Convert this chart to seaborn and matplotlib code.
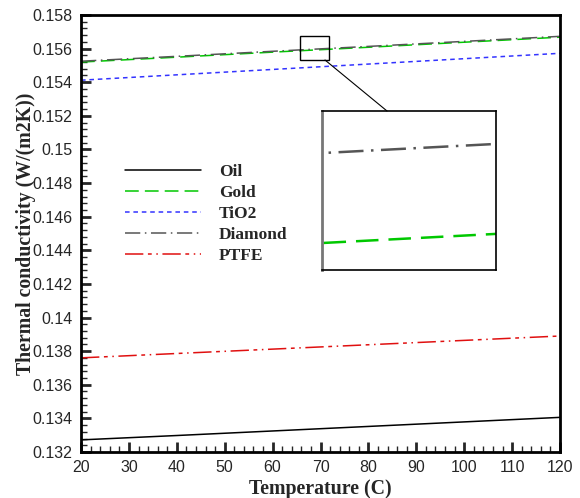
import matplotlib
matplotlib.use("Agg")
import matplotlib.pyplot as plt
import matplotlib.patches as mpatches
from matplotlib.ticker import MultipleLocator, AutoMinorLocator, FuncFormatter
import seaborn as sns
import pandas as pd

temps = [20, 40, 60, 80, 100, 120]
oil = [0.13272, 0.13298, 0.13325, 0.13352, 0.13379, 0.13406]
gold = [0.15520, 0.15549, 0.15579, 0.15608, 0.15638, 0.15668]
tio2 = [0.15412, 0.15444, 0.15476, 0.15508, 0.15540, 0.15572]
diamond = [0.15525, 0.15554, 0.15584, 0.15613, 0.15643, 0.15673]
ptfe = [0.13760, 0.13786, 0.13812, 0.13838, 0.13864, 0.13890]

names = ["Oil", "Gold", "TiO2", "Diamond", "PTFE"]
series = [oil, gold, tio2, diamond, ptfe]
colors = ["#000000", "#00c800", "#3333ff", "#555555", "#e01010"]
dashes = [None, (9, 4), (3, 2.5), (10, 3, 1, 3), (12, 3, 2.5, 3, 1, 3)]

sns.set_style("white")
plt.rcParams["font.family"] = ["Liberation Sans", "DejaVu Sans"]

fig = plt.figure(figsize=(5.8, 4.98), dpi=100)
ax = fig.add_axes([0.1397, 0.0924, 0.9655 - 0.1397, 0.9699 - 0.0924])

def draw(a, lw):
    for n, s, c, d in zip(names, series, colors, dashes):
        df = pd.DataFrame({"T": temps, "k": s})
        sns.lineplot(data=df, x="T", y="k", ax=a, color=c, lw=lw, label=n)
        ln = a.get_lines()[-1]
        if d is not None:
            ln.set_dashes(d)

draw(ax, 1.1)
ax.set_xlim(20, 120)
ax.set_ylim(0.132, 0.158)
ax.xaxis.set_major_locator(MultipleLocator(10))
ax.xaxis.set_minor_locator(AutoMinorLocator(5))
ax.yaxis.set_major_locator(MultipleLocator(0.002))
ax.yaxis.set_minor_locator(AutoMinorLocator(5))
ax.yaxis.set_major_formatter(FuncFormatter(lambda v, p: "%g" % round(v, 4)))
ax.tick_params(which="major", direction="in", length=7, width=2, labelsize=11.5,
               left=True, bottom=True, top=False, right=False)
ax.tick_params(axis="y", which="major", pad=6)
ax.tick_params(axis="x", which="major", pad=6)
ax.tick_params(which="minor", direction="in", length=4, width=1,
               left=True, bottom=True, top=False, right=False)
for sp in ax.spines.values():
    sp.set_linewidth(2)
    sp.set_color("black")
ax.set_xlabel("Temperature (C)", family="Liberation Serif", weight="bold", fontsize=14.3, labelpad=3)
ax.set_ylabel("Thermal conductivity (W/(m2K))", family="Liberation Serif", weight="bold", fontsize=14.3)
ax.yaxis.set_label_coords(-0.094, 0.5)

leg = ax.legend(loc="upper left", bbox_to_anchor=(0.063, 0.69), frameon=False,
                handlelength=4.4, labelspacing=0.27, handletextpad=1.0, borderpad=0.3,
                prop={"family": "Liberation Serif", "weight": "bold", "size": 12.5})

# zoom box on main axes
ax.add_patch(mpatches.Rectangle((65.7, 0.15533), 6.1, 0.00143, fill=False,
                                edgecolor="black", lw=1.0, zorder=5))

# inset
axin = fig.add_axes([0.555, 0.4578, 0.30, 0.319])
draw(axin, 1.8)
if axin.get_legend():
    axin.get_legend().remove()
axin.set_xlim(69.0, 69.35)
axin.set_ylim(0.1559055, 0.1559938)
axin.set_xticks([])
axin.set_yticks([])
axin.set_xlabel("")
axin.set_ylabel("")
for sp in axin.spines.values():
    sp.set_linewidth(1.2)
    sp.set_color("black")
axin.spines["left"].set_color("#777777")
axin.spines["left"].set_linewidth(2)

# connector line
fig.add_artist(plt.Line2D([325 / 580, 387 / 580], [1 - 60 / 498, 1 - 111 / 498],
                          transform=fig.transFigure, color="black", lw=0.8))

fig.savefig("out.png", dpi=100)
